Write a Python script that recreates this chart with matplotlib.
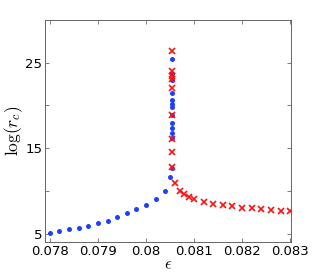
import numpy as np
import matplotlib.pyplot as plt

plt.rcParams['font.family'] = ['DejaVu Sans']
plt.rcParams['mathtext.fontset'] = 'cm'

# blue dots: stable branch
eps_blue = [0.0780, 0.0782, 0.0784, 0.0786, 0.0788, 0.0790, 0.0792, 0.0794,
            0.0796, 0.0798, 0.0800, 0.0802, 0.0804, 0.08051,
            0.08054, 0.08054, 0.08054, 0.08054, 0.08054, 0.08054, 0.08054,
            0.08054, 0.08054, 0.08054, 0.08054, 0.08054, 0.08054]
logr_blue = [5.1, 5.3, 5.5, 5.7, 5.9, 6.2, 6.5, 6.9,
             7.4, 7.85, 8.4, 9.0, 10.0, 11.6,
             12.65, 16.25, 16.8, 17.4, 17.9, 18.9, 19.8, 20.2,
             20.6, 21.5, 23.0, 23.7, 25.5]

# red crosses: other branch
eps_red = [0.08054, 0.08054, 0.08054, 0.08054, 0.08054, 0.08054, 0.08054,
           0.08054, 0.08054,
           0.0806, 0.0807, 0.0808, 0.0809, 0.0810, 0.0812, 0.0814, 0.0816,
           0.0818, 0.0820, 0.0822, 0.0824, 0.0826, 0.0828, 0.0830]
logr_red = [12.8, 14.5, 16.1, 18.9, 22.1, 23.1, 23.5, 24.0, 26.4,
            10.95, 9.95, 9.6, 9.3, 9.05, 8.7, 8.5, 8.3,
            8.2, 8.05, 7.95, 7.85, 7.75, 7.65, 7.6]

fig = plt.figure(figsize=(3.22, 2.72), dpi=100)
ax = fig.add_axes([0.140, 0.110, 0.764, 0.816])

ax.plot(eps_blue, logr_blue, 'o', color='#1f3fff', ms=3.6, mec='none')
ax.plot(eps_red, logr_red, 'x', color='#ff1010', ms=4.6, mew=1.2)

ax.set_xlim(0.0779, 0.08302)
ax.set_ylim(4, 30)
ax.set_xticks([0.078, 0.079, 0.080, 0.081, 0.082, 0.083])
ax.set_xticklabels(['0.078', '0.079', '0.08', '0.081', '0.082', '0.083'])
ax.set_yticks([5, 10, 15, 20, 25])
ax.set_yticklabels(['5', '', '15', '', '25'])
ax.tick_params(direction='in', top=True, right=True, length=3, width=0.6,
               color='#666666', pad=2)
ax.tick_params(axis='x', labelsize=9.5)
ax.tick_params(axis='y', labelsize=9.5)
for s in ax.spines.values():
    s.set_color('#666666')
    s.set_linewidth(0.7)

ax.set_xlabel(r'$\epsilon$', fontsize=12, labelpad=-2)
ax.set_ylabel(r'$\log(r_c)$', fontsize=12.5)
ax.yaxis.set_label_coords(-0.08, 0.5)

fig.savefig('out.png', dpi=100)
